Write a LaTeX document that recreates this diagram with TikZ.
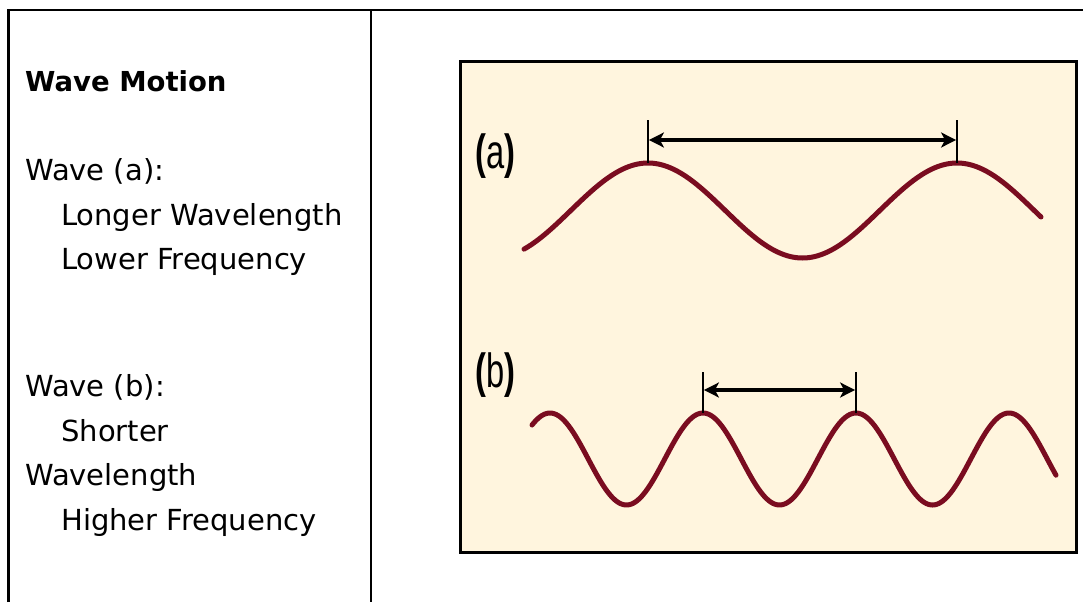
\documentclass[tikz,border=0pt]{standalone}
\usepackage{fontspec}
\setmainfont{DejaVu Sans}
\newfontfamily\labelfont{Liberation Sans}
\usetikzlibrary{arrows.meta}
\definecolor{panelfill}{RGB}{255,245,222}
\definecolor{wavered}{RGB}{122,12,32}
\tikzset{
  rule/.style={draw=black, line width=2.6pt},
  txt/.style={anchor=base west, inner sep=0pt, font=\fontsize{29}{34}\selectfont},
  ttl/.style={anchor=base west, inner sep=0pt, font=\bfseries\fontsize{27.5}{34}\selectfont},
  lbl/.style={anchor=base west, inner sep=0pt, font=\labelfont\fontsize{48}{48}\selectfont},
  wave/.style={draw=wavered, line width=5pt, line cap=round},
  tick/.style={draw=black, line width=1.8pt},
  span/.style={draw=black, line width=3.2pt, {Stealth[length=15pt,width=15pt,inset=4pt]}-{Stealth[length=15pt,width=15pt,inset=4pt]}, shorten <=0.9pt, shorten >=0.9pt}
}
\begin{document}
\begin{tikzpicture}[x=1pt,y=-1pt]
\useasboundingbox (0,0) rectangle (1083,602);
% table rules
\draw[rule] (8.5,602) -- (8.5,10) -- (1083,10);
\draw[rule] (371,10) -- (371,602);
% left column text
\node[ttl] (title) at (25,91) {Wave Motion};
\node[txt] (wa) at (25,180) {Wave (a):};
\node[txt] (wa1) at (61,225) {Longer Wavelength};
\node[txt] (wa2) at (61,269) {Lower Frequency};
\node[txt] (wb) at (25,396) {Wave (b):};
\node[txt] (wb1) at (61,441) {Shorter};
\node[txt] (wb2) at (25,485) {Wavelength};
\node[txt] (wb3) at (61,530) {Higher Frequency};
% panel
\draw[draw=black, line width=3.6pt, fill=panelfill] (460.5,61.5) rectangle (1076.5,552.5);
\node[lbl] (la) at (475,168) {\scalebox{0.68}[1]{\textbf{(}a\textbf{)}}};
\node[lbl] (lb) at (475,387) {\scalebox{0.68}[1]{\textbf{(}b\textbf{)}}};
% wave (a)
\draw[wave] plot[domain=524:1041, samples=220] (\x, {210.5 - 47.5*cos((\x-648)/309*360)});
\coordinate (a1top) at (648,120);
\coordinate (a1bot) at (648,163);
\coordinate (a2top) at (957,120);
\coordinate (a2bot) at (957,163);
\draw[tick] (a1top) -- (a1bot);
\draw[tick] (a2top) -- (a2bot);
\coordinate (a1mid) at (648,140);
\coordinate (a2mid) at (957,140);
\draw[span] (a1mid) -- (a2mid);
% wave (b)
\draw[wave] plot[domain=532:1056, samples=260] (\x, {459 - 46*cos((\x-703)/153*360)});
\coordinate (b1top) at (703,372);
\coordinate (b1bot) at (703,413);
\coordinate (b2top) at (856,372);
\coordinate (b2bot) at (856,413);
\draw[tick] (b1top) -- (b1bot);
\draw[tick] (b2top) -- (b2bot);
\coordinate (b1mid) at (703,390);
\coordinate (b2mid) at (856,390);
\draw[span] (b1mid) -- (b2mid);
\end{tikzpicture}
\end{document}
